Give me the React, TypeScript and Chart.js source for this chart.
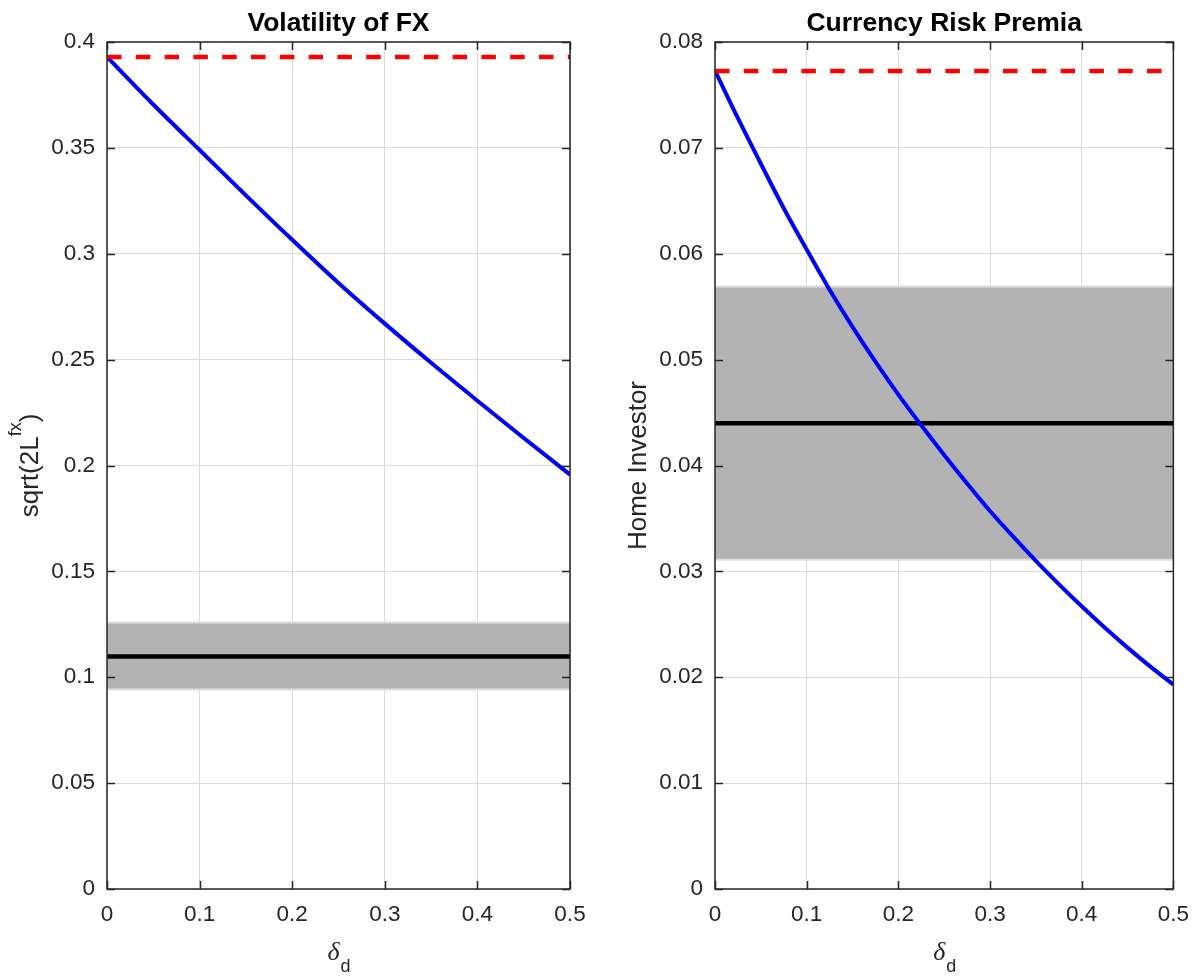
import React, { useEffect, useRef } from "react";
import { Chart, registerables } from "chart.js";

Chart.register(...registerables);

// ---------- data ----------
const xTicks = [0, 0.1, 0.2, 0.3, 0.4, 0.5];

// Left panel: Volatility of FX
const leftDelta = [0, 0.05, 0.1, 0.15, 0.2, 0.25, 0.3, 0.35, 0.4, 0.45, 0.5];
const leftVolatility = [0.393, 0.3705, 0.349, 0.3276, 0.3066, 0.2862, 0.267, 0.2485, 0.2306, 0.213, 0.1957];
const leftBenchmark = 0.3929;
const leftDataMean = 0.1098;
const leftBandLow = 0.0942;
const leftBandHigh = 0.1259;
const leftYTicks = [0, 0.05, 0.1, 0.15, 0.2, 0.25, 0.3, 0.35, 0.4];

// Right panel: Currency Risk Premia
const rightDelta = [0, 0.025, 0.05, 0.075, 0.1, 0.125, 0.15, 0.175, 0.2, 0.225, 0.25, 0.275, 0.3, 0.325, 0.35, 0.375, 0.4, 0.425, 0.45, 0.475, 0.5];
const rightPremia = [0.0773, 0.0728, 0.0685, 0.0643, 0.0604, 0.0566, 0.0531, 0.0498, 0.0467, 0.0438, 0.041, 0.0383, 0.0357, 0.0333, 0.031, 0.0288, 0.0267, 0.0247, 0.0228, 0.021, 0.0193];
const rightBenchmark = 0.07726;
const rightDataMean = 0.044;
const rightBandLow = 0.0311;
const rightBandHigh = 0.0569;
const rightYTicks = [0, 0.01, 0.02, 0.03, 0.04, 0.05, 0.06, 0.07, 0.08];

const titles = ["Volatility of FX", "Currency Risk Premia"];
const leftYLabel = [
  { text: "sqrt(2L", sup: false },
  { text: "fx", sup: true },
  { text: ")", sup: false },
];
const rightYLabel = [{ text: "Home Investor", sup: false }];

const FONT = "'Liberation Sans', Arial, Helvetica, sans-serif";
const AXIS = "#262626";
const GRID = "#dcdcdc";

const decorPlugin = {
  id: "decor",
  afterDatasetsDraw(chart: any) {
    const { ctx, chartArea: a, scales } = chart;
    ctx.save();
    ctx.strokeStyle = AXIS;
    ctx.lineWidth = 1.5;
    ctx.beginPath();
    const tl = 8;
    scales.x.ticks.forEach((t: any) => {
      const px = Math.round(scales.x.getPixelForValue(t.value)) + 0.5;
      ctx.moveTo(px, a.bottom);
      ctx.lineTo(px, a.bottom - tl);
      ctx.moveTo(px, a.top);
      ctx.lineTo(px, a.top + tl);
    });
    scales.y.ticks.forEach((t: any) => {
      const py = Math.round(scales.y.getPixelForValue(t.value)) + 0.5;
      ctx.moveTo(a.left, py);
      ctx.lineTo(a.left + tl, py);
      ctx.moveTo(a.right, py);
      ctx.lineTo(a.right - tl, py);
    });
    ctx.stroke();
    ctx.strokeRect(a.left, a.top, a.right - a.left, a.bottom - a.top);
    ctx.restore();
  },
  afterDraw(chart: any, _args: any, opts: any) {
    const { ctx, chartArea: a } = chart;
    const cx = (a.left + a.right) / 2;
    ctx.save();
    // title
    ctx.fillStyle = "#000";
    ctx.font = `bold 26.5px ${FONT}`;
    ctx.textAlign = "center";
    ctx.textBaseline = "alphabetic";
    ctx.fillText(opts.title, cx, 31);

    // x label: delta_d
    ctx.fillStyle = AXIS;
    ctx.textAlign = "left";
    const dFont = `italic 26px 'Liberation Serif', 'DejaVu Serif', serif`;
    const sFont = `18px ${FONT}`;
    ctx.font = dFont;
    const w1 = ctx.measureText("δ").width;
    ctx.font = sFont;
    const w2 = ctx.measureText("d").width;
    const sx = cx - (w1 + w2) / 2;
    ctx.font = dFont;
    ctx.fillText("δ", sx, 960);
    ctx.font = sFont;
    ctx.fillText("d", sx + w1 + 1, 972);

    // y label (rotated)
    const mainFont = `26px ${FONT}`;
    const supFont = `18px ${FONT}`;
    let total = 0;
    const widths: number[] = [];
    opts.yLabel.forEach((seg: any) => {
      ctx.font = seg.sup ? supFont : mainFont;
      const w = ctx.measureText(seg.text).width;
      widths.push(w);
      total += w;
    });
    const cy = (a.top + a.bottom) / 2;
    ctx.translate(a.left - 69, cy);
    ctx.rotate(-Math.PI / 2);
    let pos = -total / 2;
    opts.yLabel.forEach((seg: any, i: number) => {
      ctx.font = seg.sup ? supFont : mainFont;
      ctx.fillText(seg.text, pos, seg.sup ? -17 : 0);
      pos += widths[i];
    });
    ctx.restore();
  },
};

function pts(xs: number[], ys: number[]) {
  return xs.map((x, i) => ({ x, y: ys[i] }));
}

function flat(v: number) {
  return [
    { x: 0, y: v },
    { x: 0.5, y: v },
  ];
}

function buildConfig(p: any) {
  return {
    type: "line",
    data: {
      datasets: [
        {
          data: flat(p.benchmark),
          borderColor: "#ff0000",
          borderWidth: 4.5,
          borderDash: [14.5, 14.3],
          borderCapStyle: "butt",
          pointRadius: 0,
          fill: false,
        },
        {
          data: pts(p.delta, p.values),
          borderColor: "#0000ff",
          borderWidth: 4,
          pointRadius: 0,
          cubicInterpolationMode: "monotone",
          fill: false,
        },
        {
          data: flat(p.mean),
          borderColor: "#000000",
          borderWidth: 4.5,
          pointRadius: 0,
          fill: false,
        },
        {
          data: flat(p.bandHigh),
          borderColor: "#dedede",
          borderWidth: 2,
          pointRadius: 0,
          fill: false,
        },
        {
          data: flat(p.bandLow),
          borderColor: "#dedede",
          borderWidth: 2,
          pointRadius: 0,
          backgroundColor: "#b3b3b3",
          fill: "-1",
        },
      ],
    },
    options: {
      responsive: false,
      animation: false,
      devicePixelRatio: 1,
      events: [],
      layout: { padding: { left: 0, top: 42, right: p.rightPad, bottom: 0 } },
      plugins: {
        legend: { display: false },
        tooltip: { enabled: false },
        title: { display: false },
        decor: { title: p.title, yLabel: p.yLabel },
      },
      scales: {
        x: {
          type: "linear",
          min: 0,
          max: 0.5,
          afterBuildTicks: (s: any) => {
            s.ticks = xTicks.map((v) => ({ value: v }));
          },
          afterFit: (s: any) => {
            s.height = 88;
          },
          grid: { color: GRID, lineWidth: 1, drawTicks: false },
          border: { display: false },
          ticks: {
            padding: 12,
            color: AXIS,
            font: { family: FONT, size: 22.5 },
            maxRotation: 0,
            callback: (v: any) => String(v),
          },
        },
        y: {
          type: "linear",
          min: 0,
          max: p.yMax,
          afterBuildTicks: (s: any) => {
            s.ticks = p.yTicks.map((v: number) => ({ value: v }));
          },
          afterFit: (s: any) => {
            s.width = p.yWidth;
          },
          grid: { color: GRID, lineWidth: 1, drawTicks: false },
          border: { display: false },
          ticks: {
            padding: 12,
            color: AXIS,
            font: { family: FONT, size: 22.5 },
            callback: (v: any) => String(v),
          },
        },
      },
    },
    plugins: [decorPlugin],
  };
}

export default function App() {
  const leftRef = useRef<HTMLCanvasElement>(null);
  const rightRef = useRef<HTMLCanvasElement>(null);

  useEffect(() => {
    const left = new Chart(
      leftRef.current as HTMLCanvasElement,
      buildConfig({
        title: titles[0],
        yLabel: leftYLabel,
        delta: leftDelta,
        values: leftVolatility,
        benchmark: leftBenchmark,
        mean: leftDataMean,
        bandLow: leftBandLow,
        bandHigh: leftBandHigh,
        yMax: 0.4,
        yTicks: leftYTicks,
        yWidth: 107,
        rightPad: 30,
      }) as any
    );
    const right = new Chart(
      rightRef.current as HTMLCanvasElement,
      buildConfig({
        title: titles[1],
        yLabel: rightYLabel,
        delta: rightDelta,
        values: rightPremia,
        benchmark: rightBenchmark,
        mean: rightDataMean,
        bandLow: rightBandLow,
        bandHigh: rightBandHigh,
        yMax: 0.08,
        yTicks: rightYTicks,
        yWidth: 115,
        rightPad: 23,
      }) as any
    );
    return () => {
      left.destroy();
      right.destroy();
    };
  }, []);

  return (
    <div
      style={{
        position: "absolute",
        left: 0,
        top: 0,
        width: 1201,
        height: 977,
        background: "#fff",
        overflow: "hidden",
      }}
    >
      <canvas
        ref={leftRef}
        width={600}
        height={977}
        style={{ position: "absolute", left: 0, top: 0, width: 600, height: 977 }}
      />
      <canvas
        ref={rightRef}
        width={601}
        height={977}
        style={{ position: "absolute", left: 600, top: 0, width: 601, height: 977 }}
      />
    </div>
  );
}
